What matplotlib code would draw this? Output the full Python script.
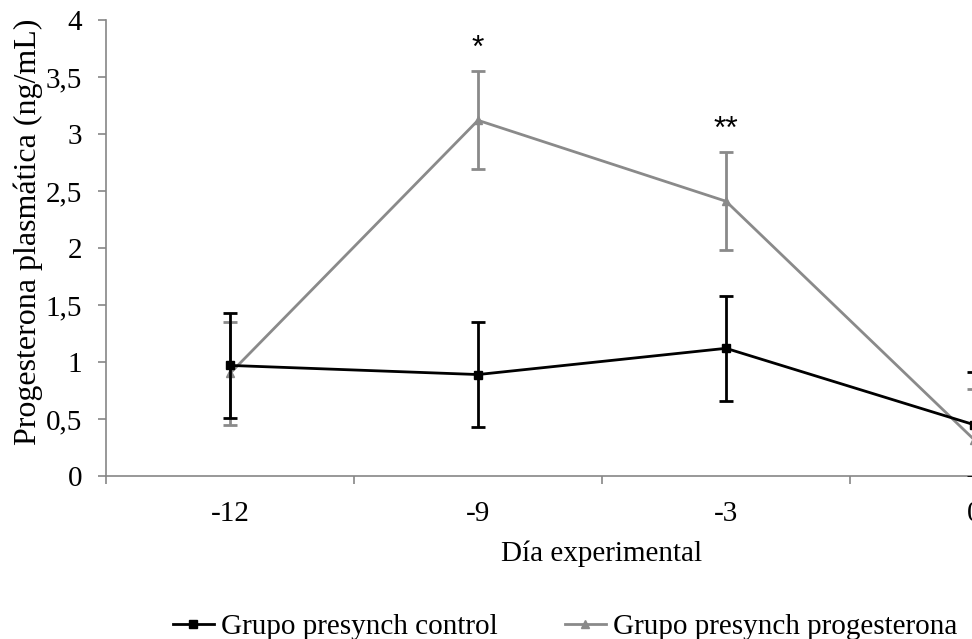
import numpy as np
import matplotlib
matplotlib.use("Agg")
from matplotlib import pyplot as plt
from matplotlib.lines import Line2D
from matplotlib.ticker import FixedLocator, FuncFormatter

plt.rcParams['font.family'] = ['Liberation Serif', 'DejaVu Serif']

dias = ["-12", "-9", "-3", "0"]
control = [0.97, 0.89, 1.12, 0.45]
control_err = [0.46, 0.46, 0.46, 0.46]
proges = [0.90, 3.12, 2.41, 0.32]
proges_err = [0.45, 0.43, 0.43, 0.44]
marcas = ["", "*", "**", ""]

gris = "#8a8a8a"
eje = "#868686"
fs = 21

fig = plt.figure(figsize=(9.72, 6.39), dpi=100)
# right edge goes past the figure, like the clipped original
ax = fig.add_axes([106/972, 1 - 476/639, (1098-106)/972, (476-20)/639])

x = np.arange(len(dias))
ax.errorbar(x, control, yerr=control_err, color="black", lw=2, marker="s",
            ms=6, capsize=5, capthick=2, elinewidth=2, zorder=3)
ax.errorbar(x, proges, yerr=proges_err, color=gris, lw=2, marker="^",
            ms=6, capsize=5, capthick=2, elinewidth=2, zorder=2)

for xi, (m, v, e) in enumerate(zip(marcas, proges, proges_err)):
    if m:
        ax.text(xi, v + e + 0.20, m, ha="center", va="center", fontsize=23,
                family=["Liberation Sans", "DejaVu Sans"])

ax.set_xlim(-0.5, 3.5)
ax.set_ylim(0, 4)
ax.set_xticks(x)
ax.set_xticklabels(dias)
ax.xaxis.set_minor_locator(FixedLocator([-0.5, 0.5, 1.5, 2.5, 3.5]))
ax.tick_params(axis="x", which="major", length=0, pad=18, labelsize=fs)
ax.tick_params(axis="x", which="minor", length=6, width=1.2, color=eje, direction="out")
ax.set_yticks(np.arange(0, 4.01, 0.5))
ax.yaxis.set_major_formatter(FuncFormatter(lambda v, p: ("%g" % v).replace(".", ",")))
ax.tick_params(axis="y", length=6, width=1.2, color=eje, direction="out", labelsize=fs, pad=11)

for s in ["top", "right"]:
    ax.spines[s].set_visible(False)
for s in ["left", "bottom"]:
    ax.spines[s].set_color(eje)
    ax.spines[s].set_linewidth(1.2)
ax.spines["left"].set_bounds(0, 4)

ax.set_ylabel("Progesterona plasmática (ng/mL)", fontsize=23)
ax.yaxis.set_label_coords(-0.064, 0.535)
ax.set_xlabel("Día experimental", fontsize=fs, labelpad=10)

h = [Line2D([], [], color="black", lw=2, marker="s", ms=6),
     Line2D([], [], color=gris, lw=2, marker="^", ms=6)]
l = ["Grupo presynch control", "Grupo presynch progesterona"]
fig.legend(h, l, loc="center", bbox_to_anchor=(565/972, 1 - 627/639), ncol=2,
           frameon=False, fontsize=fs, handlelength=1.4, handletextpad=0.25,
           columnspacing=2.3, borderpad=0)

fig.savefig("out.png", dpi=100)
